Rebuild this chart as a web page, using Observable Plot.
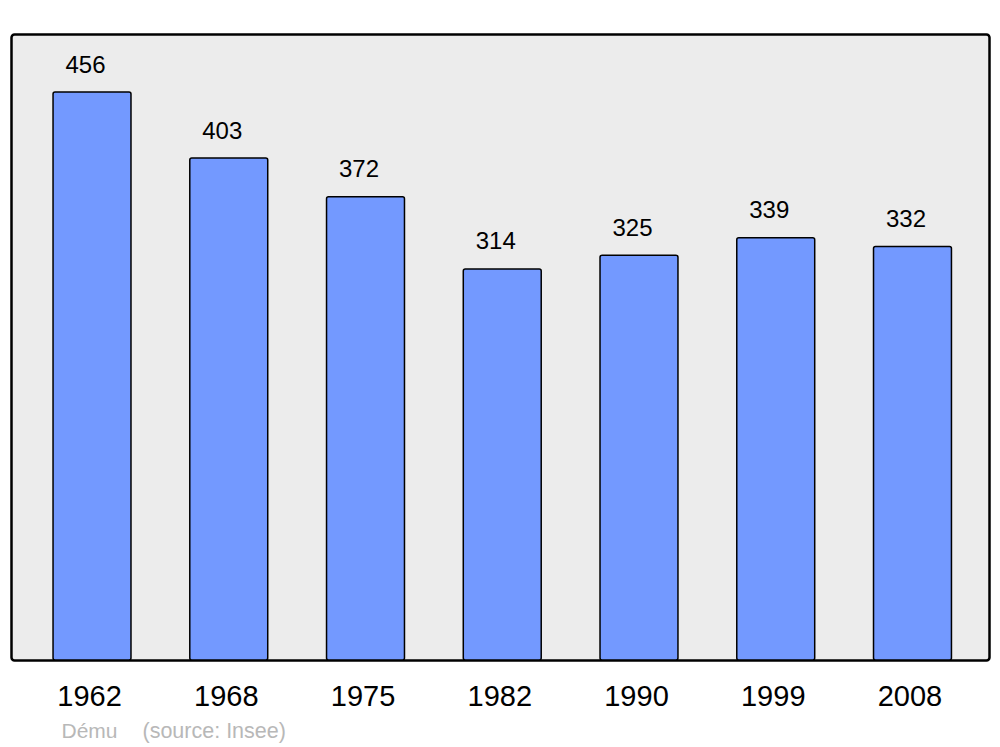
<!DOCTYPE html>
<html>
<head>
<meta charset="utf-8">
<script src="https://cdn.jsdelivr.net/npm/d3@7"></script>
<script src="https://cdn.jsdelivr.net/npm/@observablehq/plot@0.6"></script>
<style>
  html, body { margin: 0; padding: 0; background: #ffffff; }
  #chart svg { display: block; }
</style>
</head>
<body>
<div id="chart"></div>
<script>
const years = ["1962", "1968", "1975", "1982", "1990", "1999", "2008"];
const population = [456, 403, 372, 314, 325, 339, 332];
const captionAuthor = "Dému";
const captionSource = "(source: Insee)";

const data = years.map((year, i) => ({year, value: population[i]}));

const chart = Plot.plot({
  width: 1000,
  height: 747,
  marginLeft: 11,
  marginRight: 11,
  marginTop: 34,
  marginBottom: 87,
  style: {fontFamily: "'Liberation Sans', Arial, sans-serif", background: "#ffffff"},
  x: {domain: years, range: [13.25, 991.25], paddingInner: 0.43, paddingOuter: 0.291, round: false, axis: null},
  y: {domain: [0, 502.6], range: [660, 34], axis: null},
  marks: [
    Plot.frame({fill: "#ececec", stroke: "#000000", strokeWidth: 2.5, rx: 3}),
    Plot.barY(data, {x: "year", y: "value", fill: "#7399ff", stroke: "#000000", strokeWidth: 1.5, rx: 2}),
    Plot.text(data, {x: "year", y: "value", text: d => String(d.value), lineAnchor: "bottom", dy: -20, dx: -7, fontSize: 24, fill: "#000000"}),
    Plot.text(data, {x: "year", y: () => 0, text: "year", lineAnchor: "bottom", dy: 45, dx: -3, fontSize: 29, fill: "#000000"}),
    Plot.text([captionAuthor], {frameAnchor: "bottom-left", text: d => d, textAnchor: "start", lineAnchor: "bottom", dx: 50, dy: 77, fontSize: 21, fill: "#b8b8b8"}),
    Plot.text([captionSource], {frameAnchor: "bottom-left", text: d => d, textAnchor: "start", lineAnchor: "bottom", dx: 131, dy: 77, fontSize: 21.5, fill: "#b8b8b8"})
  ]
});
document.getElementById("chart").appendChild(chart);
</script>
</body>
</html>
